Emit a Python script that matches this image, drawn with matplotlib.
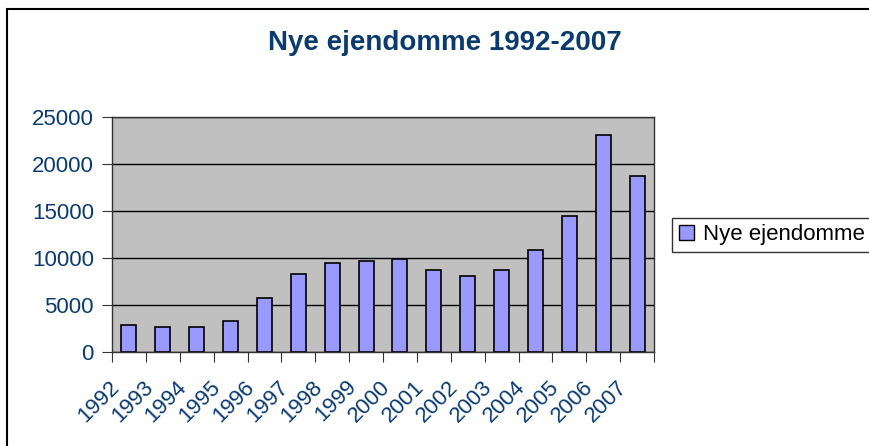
import matplotlib.pyplot as plt
import matplotlib.patches as mpatches
import matplotlib.transforms as mtransforms
import numpy as np

years = ['1992', '1993', '1994', '1995', '1996', '1997', '1998', '1999',
         '2000', '2001', '2002', '2003', '2004', '2005', '2006', '2007']
values = [2850, 2650, 2650, 3250, 5750, 8250, 9450, 9650,
          9850, 8700, 8100, 8700, 10800, 14500, 23050, 18750]
yticks = [0, 5000, 10000, 15000, 20000, 25000]

plt.rcParams['font.family'] = ['Liberation Sans', 'DejaVu Sans']
navy = '#0B3B6E'

fig = plt.figure(figsize=(8.69, 4.46), dpi=100)
ax = fig.add_axes([112 / 869, 1 - 352 / 446, (654 - 112) / 869, (352 - 117) / 446])

x = np.arange(len(years))
ax.bar(x, values, width=0.44, color='#9999FF', edgecolor='black',
       linewidth=1.2, zorder=3, label='Nye ejendomme')

ax.set_facecolor('#C0C0C0')
ax.set_xlim(-0.5, len(years) - 0.5)
ax.set_ylim(0, 25000)
ax.set_yticks(yticks)
ax.set_yticklabels([str(v) for v in yticks], color=navy, fontsize=16)
ax.yaxis.grid(True, color='black', linewidth=1.0, zorder=1)
for s in ax.spines.values():
    s.set_color('#333333')
    s.set_linewidth(1.0)

# category boundary ticks below axis, labels at centres
ax.set_xticks(np.arange(len(years) + 1) - 0.5)
ax.set_xticklabels([])
ax.tick_params(axis='x', which='major', direction='out', length=7, color='#333333')
ax.set_xticks(x, minor=True)
ax.set_xticklabels(years, minor=True, rotation=45, ha='right', va='center',
                   rotation_mode='anchor', color=navy, fontsize=16)
ax.tick_params(axis='x', which='minor', length=0, pad=20)
ax.tick_params(axis='y', direction='out', length=7, color='#333333', pad=6)

# Excel puts the rotated labels a little left of the category centre
shift = mtransforms.ScaledTranslation(-0.13, -0.04, fig.dpi_scale_trans)
for lbl in ax.get_xticklabels(minor=True):
    lbl.set_transform(lbl.get_transform() + shift)

fig.text(445 / 869, 1 - 43 / 446, 'Nye ejendomme 1992-2007', ha='center',
         va='center', fontsize=20, fontweight='bold', color=navy)

leg = fig.legend(handles=[mpatches.Patch(facecolor='#9999FF', edgecolor='black',
                                         label='Nye ejendomme')],
                 loc='center left', bbox_to_anchor=(672 / 869, 1 - 235 / 446),
                 fontsize=16, frameon=True, fancybox=False, borderpad=0.3,
                 handlelength=0.7, handleheight=0.7, handletextpad=0.4,
                 borderaxespad=0)
leg.get_frame().set_edgecolor('black')
leg.get_frame().set_linewidth(1.0)

# outer chart border
fig.patches.append(mpatches.Rectangle((7 / 869, -0.1), 1.2, 1 - 9 / 446 + 0.1,
                                      transform=fig.transFigure, fill=False,
                                      edgecolor='black', linewidth=1.5))

fig.savefig('out.png', dpi=100)
